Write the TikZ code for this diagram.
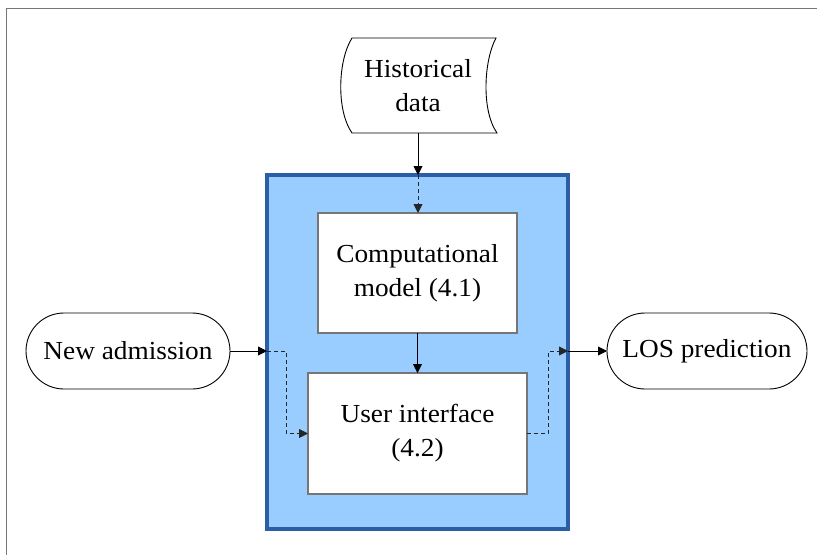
\documentclass[tikz,border=0pt]{standalone}
\usepackage{fontspec}
\setmainfont{Liberation Serif}[FakeStretch=1.05]
\usetikzlibrary{arrows.meta,calc}
\definecolor{sysfill}{HTML}{99CCFF}
\definecolor{sysline}{HTML}{2A5FA6}
\definecolor{framegray}{HTML}{767676}
\begin{document}
\begin{tikzpicture}[x=1pt,y=-1pt,
  txt/.style={font=\fontsize{26}{34}\selectfont, align=center, text=black},
  whitebox/.style={draw=framegray, line width=1.2pt, fill=white, outer sep=0pt, inner sep=0pt},
  pill/.style={draw=black, line width=0.9pt, rounded corners=38pt, fill=white, outer sep=0pt, inner sep=0pt},
  conn/.style={draw=black, line width=0.9pt, -{Triangle[length=9pt,width=9pt]}},
  dconn/.style={draw=black!85, line width=0.9pt, dash pattern=on 4pt off 3pt, -{Triangle[length=9pt,width=9pt]}}]
\useasboundingbox (0,0) rectangle (817,555);
% frame (top and left only)
\draw[framegray, line width=1.6pt] (817,8.5) -- (6.5,8.5) -- (6.5,555);
% system container
\node[draw=sysline, fill=sysfill, line width=4pt, outer sep=0pt, inner sep=0pt,
      minimum width=301pt, minimum height=354pt] (sys) at (417.5,352) {};
% historical data (stored data shape)
\node[minimum width=150pt, minimum height=95pt, inner sep=0pt, outer sep=0pt] (hist) at (418,85.5) {};
\draw[black, line width=0.9pt, fill=white]
  (352,38) -- (496,38) .. controls (484,60) and (481,110) .. (497,133)
  -- (352,133) .. controls (336,110) and (338,60) .. (352,38) -- cycle;
\node[txt] at (hist.center) {Historical\\data};
% computational model
\node[whitebox, minimum width=199pt, minimum height=120pt, txt] (cm) at (417.5,273) {Computational\\model (4.1)};
% user interface
\node[whitebox, minimum width=219pt, minimum height=121pt, txt] (ui) at (417.5,433.5) {User interface\\(4.2)};
% terminals
\node[pill, minimum width=204pt, minimum height=76pt, txt] (na) at (128,351) {New admission};
\node[pill, minimum width=200pt, minimum height=76pt, txt] (los) at (707,351) {LOS prediction};
% connectors
\coordinate (hb) at (418,133);
\coordinate (stop) at (418,175);
\coordinate (cmtop) at (418,213);
\draw[conn] (hb) -- (stop);
\draw[dconn] (stop) -- (cmtop);
\draw[conn] (cm.south) -- (ui.north);
\coordinate (sl) at (sys.west |- na.east);
\coordinate (b1) at (286,351);
\coordinate (b2) at (286,433.5);
\draw[conn] (na.east) -- (sl);
\draw[dconn] (sl) -- (b1) -- (b2) -- (ui.west);
\coordinate (b3) at (548,433.5);
\coordinate (b4) at (548,351);
\coordinate (sr) at (sys.east |- los.west);
\draw[dconn] (ui.east) -- (b3) -- (b4) -- (sr);
\draw[conn] (sr) -- (los.west);
\end{tikzpicture}
\end{document}
